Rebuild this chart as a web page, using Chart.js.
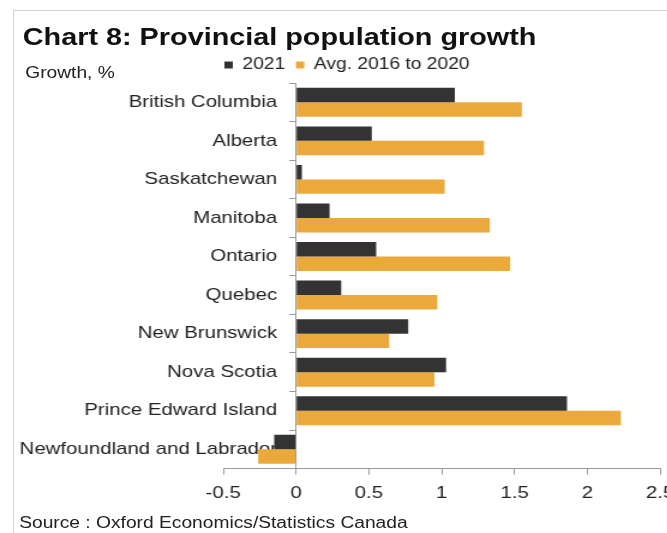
<!DOCTYPE html>
<html>
<head>
<meta charset="utf-8">
<script src="https://cdn.jsdelivr.net/npm/chart.js@4.4.1/dist/chart.umd.min.js"></script>
<style>
  html, body { margin: 0; padding: 0; background: #fff; width: 667px; height: 533px; overflow: hidden; }
  #frame { position: absolute; left: 13px; top: 10px; width: 653px; height: 522px;
           border-top: 1px solid #d2d2d2; border-left: 1px solid #d2d2d2; }
  /* the original picture is stretched sideways, so the whole chart is drawn narrow and widened */
  #wrap { position: absolute; left: 0; top: 0; width: 556px; height: 533px; overflow: hidden;
          transform: scaleX(1.2); transform-origin: 0 0;
          font-family: "Liberation Sans", Arial, sans-serif; color: #222; }
  #wrap canvas { position: absolute; left: 0; top: 0; }
  .txt { position: absolute; white-space: nowrap; line-height: 1; }
  #title { left: 19px; top: 25px; font-size: 24px; font-weight: bold; color: #111; }
  #unit { left: 21px; top: 65px; font-size: 16px; }
  #source { left: 16px; top: 515px; font-size: 16px; }
</style>
</head>
<body>
<div id="frame"></div>
<div id="wrap">
  <canvas id="chart" width="571" height="533"></canvas>
  <div class="txt" id="title">Chart 8: Provincial population growth</div>
  <div class="txt" id="unit">Growth, %</div>
  <div class="txt" id="source">Source : Oxford Economics/Statistics Canada</div>
</div>
<script>
const provinces = ['British Columbia', 'Alberta', 'Saskatchewan', 'Manitoba', 'Ontario',
  'Quebec', 'New Brunswick', 'Nova Scotia', 'Prince Edward Island', 'Newfoundland and Labrador'];
const growth2021 = [1.09, 0.52, 0.04, 0.23, 0.55, 0.31, 0.77, 1.03, 1.86, -0.15];
const growthAvg = [1.55, 1.29, 1.02, 1.33, 1.47, 0.97, 0.64, 0.95, 2.23, -0.26];
const xTicks = [-0.5, 0, 0.5, 1, 1.5, 2, 2.5];

const font = 'Liberation Sans, Arial, sans-serif';
const axisGrey = '#9a9a9a';
// labels sit a little left of the zero line, like in the original
const labelAt = -0.13;

const chart = new Chart(document.getElementById('chart'), {
  type: 'bar',
  data: {
    labels: provinces,
    datasets: [
      { label: '2021', data: growth2021, backgroundColor: '#333333', yAxisID: 'y',
        categoryPercentage: 0.75, barPercentage: 1 },
      { label: 'Avg. 2016 to 2020', data: growthAvg, backgroundColor: '#EBA93B', yAxisID: 'y',
        categoryPercentage: 0.75, barPercentage: 1 }
    ]
  },
  options: {
    indexAxis: 'y',
    responsive: false,
    animation: false,
    layout: { padding: { left: 178, right: 12, top: 48, bottom: 20 } },
    plugins: {
      legend: {
        position: 'top',
        align: 'start',
        labels: { boxWidth: 7, boxHeight: 7, padding: 9, color: '#222', font: { family: font, size: 16 } }
      },
      tooltip: { enabled: false }
    },
    scales: {
      x: {
        min: -0.5,
        max: 2.5,
        afterBuildTicks: (s) => { s.ticks = xTicks.map(v => ({ value: v })); },
        grid: { drawOnChartArea: false, tickLength: 6, color: axisGrey },
        border: { color: axisGrey },
        ticks: { padding: 9, color: '#222', font: { family: font, size: 17 }, callback: (v) => String(v) }
      },
      y: {
        position: { x: 0 },
        offset: true,
        grid: { offset: true, drawOnChartArea: false, tickLength: 5, color: axisGrey },
        border: { color: axisGrey },
        ticks: { display: false }
      },
      yLabels: {
        axis: 'y',
        type: 'category',
        position: { x: labelAt },
        offset: true,
        grid: { display: false, drawTicks: false },
        border: { display: false },
        ticks: { autoSkip: false, color: '#222', font: { family: font, size: 17 } }
      },
      // empty axis that only holds the room left of -0.5
      pad: {
        type: 'category',
        position: 'left',
        grid: { display: false },
        border: { display: false },
        ticks: { display: false },
        afterFit: (s) => { s.width = 8; }
      }
    }
  }
});
</script>
</body>
</html>
